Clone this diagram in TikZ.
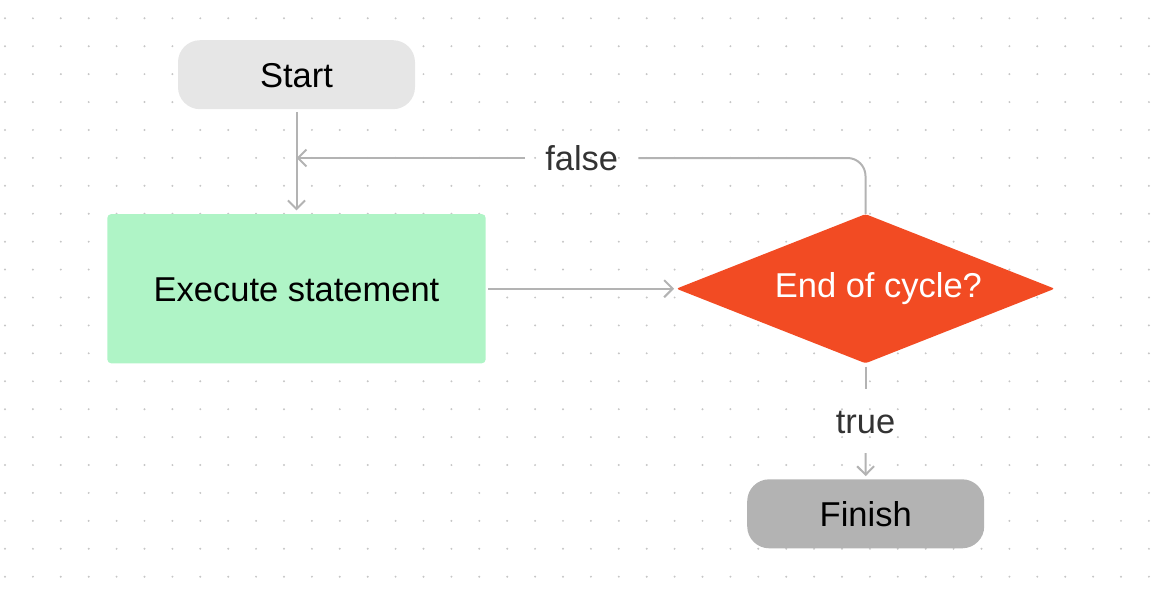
\documentclass[tikz,border=0pt]{standalone}
\usepackage{fontspec}
\setmainfont{Liberation Sans}
\usetikzlibrary{shapes.geometric,arrows.meta}
\definecolor{gridc}{HTML}{C6C6C6}
\definecolor{startc}{HTML}{E6E6E6}
\definecolor{execc}{HTML}{AFF4C6}
\definecolor{decc}{HTML}{F24B23}
\definecolor{finc}{HTML}{B3B3B3}
\definecolor{linec}{HTML}{B3B3B3}
\definecolor{labc}{HTML}{333333}
\tikzset{
  txt/.style={font=\fontsize{34.5}{40}\selectfont, text height=24.7pt, text depth=0pt},
  terminal/.style={txt, rectangle, rounded corners=22pt, minimum width=237pt, minimum height=69pt, inner sep=0pt, text=black},
  process/.style={txt, rectangle, rounded corners=4pt, minimum width=378.4pt, minimum height=149.3pt, inner sep=0pt, fill=execc, text=black},
  decision/.style={diamond, rounded corners=2.5pt, minimum width=378.5pt, minimum height=149.3pt, inner sep=0pt, fill=decc},
  edgelabel/.style={txt, text=labc},
  wire/.style={draw=linec, line width=2pt},
  conn/.style={wire, -{Straight Barb[length=8.5pt,width=17pt,line width=2pt]}},
}
\begin{document}
\begin{tikzpicture}[x=1pt,y=-1pt]
\useasboundingbox (0,0) rectangle (1162,602);
% dot grid
\foreach \i in {0,...,41}{
  \foreach \j in {0,...,20}{
    \fill[gridc] ({5+27.9*\i},{18.3+27.92*\j}) circle (1.1pt);
  }
}
% nodes
\node[terminal, fill=startc] (start) at (296.5,74.7) {Start};
\node[process] (exec) at (296.5,288.7) {Execute statement};
\node[decision] (dec) at (865.5,288.7) {};
\node[txt, text=white] (dlabel) at (878.4,285) {End of cycle?};
\node[terminal, fill=finc] (finish) at (865.7,513.8) {Finish};
\node[edgelabel, inner xsep=20pt, inner ysep=0pt] (lfalse) at (581.7,158) {false};
\node[edgelabel, inner xsep=0pt, inner ysep=19.5pt] (ltrue) at (865.5,421) {true};
\coordinate (fend) at (296.5,158);
% connectors
\draw[conn, shorten <=2.5pt, shorten >=3.5pt] (start.south) -- (exec.north);
\draw[conn, shorten <=2.5pt, shorten >=2pt] (exec.east) -- (dec.west);
\draw[wire, rounded corners=18pt] (dec.north) |- (lfalse.east);
\draw[conn] (lfalse.west) -- (fend);
\draw[wire, shorten <=3pt] (dec.south) -- (ltrue.north);
\draw[conn, shorten >=3pt] (ltrue.south) -- (finish.north);
\end{tikzpicture}
\end{document}
